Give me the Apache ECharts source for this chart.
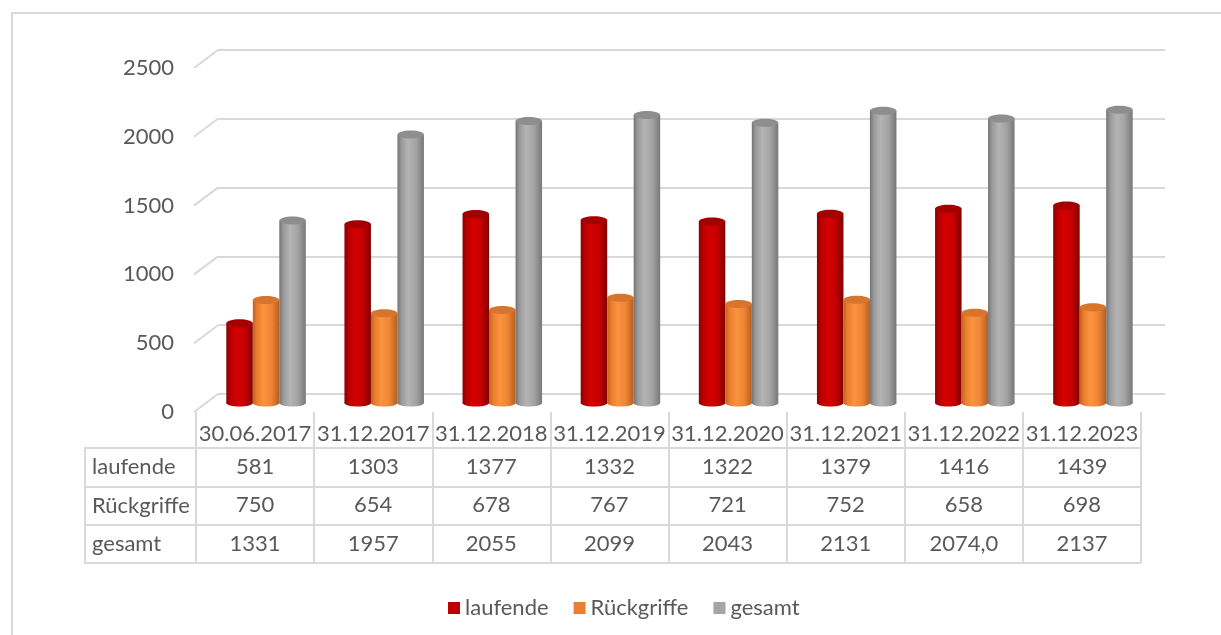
<!DOCTYPE html>
<html><head><meta charset="utf-8">
<script src="https://cdn.jsdelivr.net/npm/echarts@6/dist/echarts.min.js"></script>
<style>html,body{margin:0;padding:0;background:#fff}#c{width:1221px;height:635px}</style>
</head><body><div id="c"></div>
<script>
const categories = ['30.06.2017','31.12.2017','31.12.2018','31.12.2019','31.12.2020','31.12.2021','31.12.2022','31.12.2023'];
const laufende = [581,1303,1377,1332,1322,1379,1416,1439];
const rueckgriffe = [750,654,678,767,721,752,658,698];
const gesamt = [1331,1957,2055,2099,2043,2131,2074,2137];
const laufendeLabels = ['581','1303','1377','1332','1322','1379','1416','1439'];
const rueckgriffeLabels = ['750','654','678','767','721','752','658','698'];
const gesamtLabels = ['1331','1957','2055','2099','2043','2131','2074,0','2137'];
const seriesNames = ['laufende','Rückgriffe','gesamt'];
const yTicks = [0,500,1000,1500,2000,2500];

const FONT = 'Lato';
const TXT = '#595959';
const LINE = '#d9d9d9';
const FS = 22;

const legendColors = ['#c00000','#ed7d31','#a5a5a5'];
const bodyStops = [
  [[0,'#8a0000'],[0.15,'#b80000'],[0.4,'#d60000'],[0.7,'#c40000'],[1,'#820000']],
  [[0,'#c2601a'],[0.15,'#e97d2d'],[0.4,'#fb933f'],[0.7,'#ef8536'],[1,'#b55e1e']],
  [[0,'#737373'],[0.15,'#9a9a9a'],[0.4,'#b4b4b4'],[0.7,'#a3a3a3'],[1,'#787878']]
];
const capColors = ['#a40000','#d8752c','#8e8e8e'];

const BW = 26.5;
function cylinder(si) {
  return function (params, api) {
    const xi = api.value(0), v = api.value(1);
    const top = api.coord([xi, v]);
    const base = api.coord([xi, 0]);
    const cx = top[0] + (si - 1) * BW;
    const grad = new echarts.graphic.LinearGradient(0, 0, 1, 0,
      bodyStops[si].map(s => ({offset: s[0], color: s[1]})));
    return {type: 'group', children: [
      {type: 'ellipse', shape: {cx: cx, cy: base[1], rx: BW / 2, ry: 3.5}, style: {fill: grad}},
      {type: 'rect', shape: {x: cx - BW / 2, y: top[1], width: BW, height: base[1] - top[1]}, style: {fill: grad}},
      {type: 'ellipse', shape: {cx: cx, cy: top[1], rx: BW / 2, ry: 4}, style: {fill: capColors[si]}}
    ]};
  };
}

const seriesData = [laufende, rueckgriffe, gesamt];
const FRONT_X = 194, BACK_X = 218;

function rowAxis(data, margin, withSplit) {
  return {gridIndex: 3, type: 'category', data: data, position: 'top',
    axisLine: {show: false}, axisTick: {show: false},
    splitLine: {show: withSplit, interval: 0, lineStyle: {color: LINE, width: 2}},
    axisLabel: {inside: true, margin: margin, verticalAlign: 'middle', interval: 0,
      fontSize: FS, color: TXT, fontFamily: FONT}};
}

const chart = echarts.init(document.getElementById('c'));
const option = {
  animation: false,
  textStyle: {fontFamily: FONT},
  grid: [
    {left: 207, right: 69, top: 60, bottom: 232, outerBoundsMode: 'none'},
    {left: BACK_X, right: 56, top: 50, bottom: 241, outerBoundsMode: 'none'},
    {left: FRONT_X, right: 56, top: 68, bottom: 223, outerBoundsMode: 'none'},
    {left: 196, right: 80, top: 412, bottom: 72, outerBoundsMode: 'none'},
    {left: 85, right: 80, top: 448, bottom: 72, outerBoundsMode: 'none'}
  ],
  xAxis: [
    {gridIndex: 0, type: 'category', data: categories, show: false},
    {gridIndex: 1, type: 'category', data: categories, show: false},
    {gridIndex: 2, type: 'category', data: categories, show: false},
    rowAxis(categories, 22, true),
    rowAxis(laufendeLabels, 55, false),
    rowAxis(rueckgriffeLabels, 93, false),
    rowAxis(gesamtLabels, 132, false),
    {gridIndex: 4, type: 'value', show: false}
  ],
  yAxis: [
    {gridIndex: 0, type: 'value', min: 0, max: 2500, show: false},
    {gridIndex: 1, type: 'value', min: 0, max: 2500, interval: 500,
      axisLine: {show: false}, axisTick: {show: false}, axisLabel: {show: false},
      splitLine: {show: true, lineStyle: {color: LINE, width: 2}}},
    {gridIndex: 2, type: 'value', min: 0, max: 2500, interval: 500,
      axisLine: {show: false}, axisTick: {show: false}, splitLine: {show: false},
      axisLabel: {margin: 20, fontSize: FS, color: TXT, fontFamily: FONT, formatter: v => String(v)}},
    {gridIndex: 3, type: 'value', show: false},
    {gridIndex: 4, type: 'category', data: seriesNames, inverse: true,
      axisLine: {show: true, lineStyle: {color: LINE, width: 2}}, axisTick: {show: false},
      splitLine: {show: true, interval: 0, lineStyle: {color: LINE, width: 2}},
      axisLabel: {inside: true, margin: 7, align: 'left', interval: 0, fontSize: FS, color: TXT, fontFamily: FONT}}
  ],
  legend: {
    left: 443, top: 592, itemWidth: 12, itemHeight: 12, itemGap: 25,
    icon: 'rect', data: seriesNames,
    textStyle: {fontSize: FS, color: TXT, fontFamily: FONT}
  },
  series: seriesNames.map((name, si) => ({
    name: name, type: 'custom', xAxisIndex: 0, yAxisIndex: 0,
    itemStyle: {color: legendColors[si]},
    encode: {x: 0, y: 1},
    renderItem: cylinder(si),
    data: seriesData[si].map((v, i) => [i, v])
  }))
};
chart.setOption(option);

const graphics = [{
  type: 'rect', shape: {x: 12, y: 13, width: 1240, height: 660},
  style: {fill: null, stroke: LINE, lineWidth: 2}, silent: true, z: -1
}];
yTicks.forEach(t => {
  const yf = chart.convertToPixel({yAxisIndex: 2}, t);
  const yb = chart.convertToPixel({yAxisIndex: 1}, t);
  graphics.push({type: 'line', shape: {x1: FRONT_X, y1: yf, x2: BACK_X, y2: yb},
    style: {stroke: LINE, lineWidth: 2}, silent: true});
});
chart.setOption({graphic: graphics});
</script></body></html>
